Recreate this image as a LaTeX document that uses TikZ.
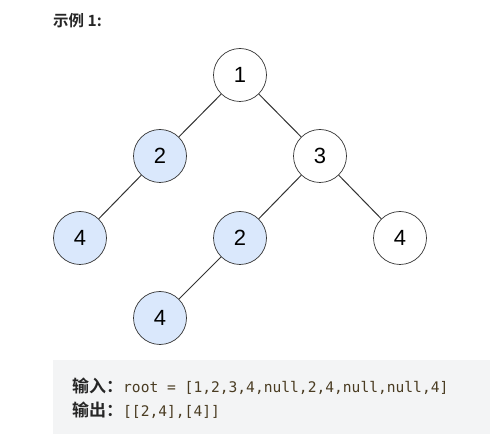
\documentclass[tikz,border=0pt]{standalone}
\usepackage{fontspec}
\setmainfont{Liberation Sans}
\setmonofont{DejaVu Sans Mono}
\newfontfamily\cjkb{Noto Sans CJK SC Bold}
\definecolor{blu}{HTML}{DAE8FC}
\definecolor{edg}{HTML}{333333}
\definecolor{bx}{HTML}{F3F4F5}
\definecolor{code}{HTML}{4A3C22}
\definecolor{txt}{HTML}{262626}
\begin{document}
\begin{tikzpicture}[x=1pt,y=-1pt,
  tn/.style={circle,draw=edg,line width=0.7pt,minimum size=53pt,inner sep=0pt,font=\fontsize{22}{26}\selectfont},
  hl/.style={tn,fill=blu},
  ed/.style={draw=edg,line width=1pt}]
\useasboundingbox (0,0) rectangle (490,435);
\node[anchor=west,inner sep=0pt,text=txt,font=\cjkb\fontsize{15.5}{18}\selectfont] (title) at (53,21) {示例 1:};
\node (n1) [tn] at (240,75) {1};
\node (n2) [hl] at (160,156) {2};
\node (n3) [tn] at (320,156) {3};
\node (n4) [hl] at (80,238) {4};
\node (n5) [hl] at (240,238) {2};
\node (n6) [tn] at (400,238) {4};
\node (n7) [hl] at (160,318) {4};
\draw[ed] (n1) -- (n2);
\draw[ed] (n1) -- (n3);
\draw[ed] (n2) -- (n4);
\draw[ed] (n3) -- (n5);
\draw[ed] (n3) -- (n6);
\draw[ed] (n5) -- (n7);
\fill[bx] (53,360) rectangle (490,434);
\node[anchor=west,inner sep=0pt] (in) at (72,386) {{\color{txt}\cjkb\fontsize{17}{18}\selectfont 输入：}{\color{code}\ttfamily\fontsize{14.6}{16}\selectfont root = [1,2,3,4,null,2,4,null,null,4]}};
\node[anchor=west,inner sep=0pt] (out) at (72,410) {{\color{txt}\cjkb\fontsize{17}{18}\selectfont 输出：}{\color{code}\ttfamily\fontsize{14.6}{16}\selectfont [[2,4],[4]]}};
\end{tikzpicture}
\end{document}
